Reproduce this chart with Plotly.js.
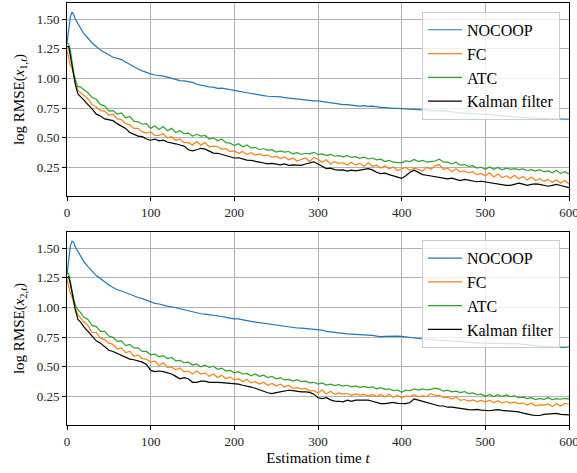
<!DOCTYPE html>
<html>
<head>
<meta charset="utf-8">
<script src="https://cdn.plot.ly/plotly-3.0.1.min.js"></script>
<style>html,body{margin:0;padding:0;background:#fff;}#chart{width:577px;height:473px;}</style>
</head>
<body>
<div id="chart"></div>
<script>
// Estimation time samples
const T = [0,2,4,6,8,10,13,16,20,
25,30,35,40,45,50,55,60,65,70,
75,80,85,90,95,100,105,110,115,120,
125,130,135,140,145,150,155,160,165,170,
175,180,185,190,195,200,205,210,215,220,
225,230,235,240,245,250,255,260,265,270,
275,280,285,290,295,300,305,310,315,320,
325,330,335,340,345,350,355,360,365,370,
375,380,385,390,395,400,405,410,415,420,
425,430,435,440,445,450,455,460,465,470,
475,480,485,490,495,500,505,510,515,520,
525,530,535,540,545,550,555,560,565,570,
575,580,585,590,595,600];

const seriesNames = ["NOCOOP", "FC", "ATC", "Kalman filter"];

// ---- Top panel: log RMSE(x_{1,t}) ----
const x1_nocoop = [1.30,1.42,1.52,1.56,1.54,1.50,1.46,1.42,1.38,
1.34,1.30,1.27,1.24,1.22,1.20,1.18,1.17,1.16,1.14,
1.12,1.095,1.08,1.065,1.05,1.04,1.03,1.028,1.02,1.012,
1.00,0.99,0.982,0.98,0.972,0.968,0.952,0.944,0.94,0.93,
0.927,0.918,0.92,0.91,0.906,0.90,0.892,0.888,0.88,0.874,
0.868,0.86,0.856,0.851,0.85,0.848,0.845,0.84,0.835,0.83,
0.826,0.822,0.82,0.816,0.811,0.812,0.806,0.80,0.797,0.79,
0.785,0.781,0.78,0.774,0.772,0.767,0.772,0.766,0.768,0.76,
0.757,0.755,0.75,0.748,0.749,0.748,0.745,0.74,0.742,0.738,
0.735,0.736,0.73,0.732,0.728,0.729,0.726,0.72,0.714,0.71,
0.707,0.705,0.706,0.703,0.70,0.70,0.698,0.695,0.69,0.686,
0.68,0.677,0.676,0.673,0.67,0.668,0.667,0.665,0.663,0.666,
0.662,0.66,0.661,0.658,0.66,0.657];

const x1_fc = [1.24,1.18,1.11,1.09,1.02,0.96,0.90,0.88,0.86,
0.83,0.78,0.76,0.73,0.725,0.69,0.70,0.66,0.655,0.62,
0.61,0.58,0.58,0.55,0.54,0.55,0.52,0.52,0.535,0.50,
0.51,0.48,0.49,0.46,0.46,0.44,0.47,0.44,0.46,0.425,
0.43,0.425,0.405,0.41,0.385,0.39,0.37,0.385,0.36,0.375,
0.355,0.365,0.35,0.355,0.335,0.345,0.325,0.34,0.315,0.33,
0.305,0.32,0.33,0.30,0.335,0.32,0.295,0.315,0.28,0.30,
0.285,0.29,0.27,0.295,0.27,0.285,0.26,0.29,0.26,0.27,
0.245,0.265,0.24,0.255,0.225,0.24,0.25,0.225,0.245,0.235,
0.22,0.25,0.235,0.265,0.275,0.235,0.245,0.215,0.24,0.215,
0.22,0.205,0.215,0.19,0.20,0.18,0.205,0.17,0.195,0.165,
0.18,0.16,0.185,0.155,0.175,0.145,0.17,0.14,0.155,0.135,
0.15,0.125,0.145,0.12,0.14,0.11];

const x1_atc = [1.30,1.29,1.24,1.14,1.05,0.99,0.93,0.93,0.91,
0.88,0.84,0.825,0.78,0.77,0.725,0.73,0.70,0.71,0.67,
0.68,0.64,0.635,0.615,0.62,0.58,0.60,0.57,0.595,0.56,
0.58,0.545,0.56,0.535,0.54,0.515,0.53,0.515,0.52,0.49,
0.50,0.475,0.49,0.46,0.455,0.435,0.45,0.425,0.44,0.415,
0.42,0.40,0.41,0.395,0.40,0.38,0.39,0.38,0.385,0.365,
0.375,0.36,0.37,0.365,0.378,0.36,0.365,0.35,0.36,0.345,
0.35,0.34,0.35,0.335,0.342,0.327,0.338,0.322,0.33,0.315,
0.32,0.30,0.31,0.295,0.29,0.29,0.305,0.30,0.318,0.30,
0.31,0.295,0.30,0.305,0.32,0.295,0.295,0.28,0.295,0.27,
0.275,0.26,0.265,0.245,0.252,0.235,0.255,0.235,0.25,0.23,
0.245,0.235,0.24,0.232,0.238,0.225,0.232,0.22,0.232,0.215,
0.222,0.205,0.225,0.20,0.215,0.195];

const x1_kalman = [1.27,1.27,1.19,1.10,1.02,0.95,0.87,0.85,0.82,
0.78,0.745,0.70,0.685,0.66,0.65,0.645,0.62,0.60,0.58,
0.545,0.53,0.515,0.51,0.49,0.48,0.49,0.475,0.48,0.465,
0.46,0.45,0.44,0.43,0.40,0.39,0.40,0.412,0.405,0.39,
0.372,0.37,0.36,0.35,0.34,0.33,0.332,0.32,0.312,0.31,
0.30,0.295,0.288,0.28,0.284,0.276,0.272,0.28,0.268,0.272,
0.27,0.268,0.28,0.29,0.298,0.28,0.262,0.241,0.245,0.232,
0.228,0.23,0.22,0.228,0.222,0.227,0.232,0.241,0.23,0.21,
0.199,0.202,0.19,0.18,0.17,0.158,0.18,0.21,0.227,0.21,
0.19,0.185,0.18,0.172,0.17,0.16,0.155,0.16,0.15,0.14,
0.15,0.142,0.132,0.13,0.134,0.128,0.12,0.112,0.11,0.102,
0.10,0.10,0.108,0.118,0.11,0.10,0.108,0.112,0.108,0.10,
0.092,0.10,0.108,0.098,0.09,0.08];

// ---- Bottom panel: log RMSE(x_{2,t}) ----
const x2_nocoop = [1.28,1.42,1.52,1.56,1.55,1.51,1.47,1.43,1.39,
1.345,1.31,1.27,1.245,1.215,1.19,1.17,1.15,1.14,1.125,
1.11,1.10,1.085,1.075,1.06,1.05,1.035,1.03,1.02,1.012,
1.007,0.998,0.99,0.98,0.97,0.96,0.952,0.948,0.944,0.94,
0.937,0.93,0.925,0.918,0.91,0.905,0.905,0.895,0.89,0.883,
0.878,0.87,0.865,0.86,0.853,0.85,0.845,0.84,0.835,0.83,
0.828,0.826,0.823,0.82,0.818,0.815,0.81,0.80,0.795,0.788,
0.782,0.78,0.778,0.776,0.775,0.773,0.77,0.77,0.765,0.76,
0.755,0.758,0.76,0.762,0.76,0.757,0.752,0.745,0.74,0.737,
0.735,0.733,0.73,0.728,0.727,0.725,0.723,0.72,0.715,0.71,
0.706,0.705,0.704,0.702,0.70,0.70,0.70,0.70,0.70,0.70,
0.70,0.70,0.698,0.695,0.69,0.685,0.68,0.675,0.672,0.67,
0.67,0.668,0.668,0.667,0.665,0.67];

const x2_fc = [1.24,1.18,1.12,1.09,1.04,0.99,0.94,0.91,0.88,
0.85,0.79,0.79,0.74,0.73,0.70,0.69,0.65,0.66,0.62,
0.63,0.59,0.60,0.57,0.565,0.54,0.55,0.51,0.535,0.495,
0.50,0.475,0.49,0.46,0.465,0.44,0.465,0.44,0.45,0.42,
0.44,0.41,0.43,0.40,0.415,0.39,0.40,0.375,0.395,0.365,
0.375,0.355,0.37,0.345,0.36,0.34,0.355,0.33,0.345,0.318,
0.325,0.315,0.318,0.298,0.30,0.28,0.305,0.272,0.295,0.268,
0.28,0.27,0.275,0.26,0.272,0.262,0.268,0.255,0.265,0.25,
0.268,0.248,0.27,0.243,0.26,0.24,0.255,0.25,0.265,0.248,
0.255,0.25,0.275,0.258,0.26,0.24,0.245,0.228,0.245,0.218,
0.225,0.212,0.222,0.208,0.218,0.205,0.22,0.198,0.215,0.195,
0.208,0.195,0.202,0.19,0.195,0.178,0.195,0.172,0.18,0.178,
0.188,0.165,0.19,0.17,0.192,0.185];

const x2_atc = [1.31,1.28,1.22,1.14,1.07,1.02,0.98,0.96,0.92,
0.90,0.85,0.84,0.80,0.80,0.76,0.75,0.715,0.72,0.68,
0.69,0.66,0.66,0.63,0.63,0.60,0.61,0.585,0.595,0.57,
0.58,0.55,0.555,0.535,0.54,0.515,0.525,0.50,0.515,0.495,
0.505,0.48,0.49,0.465,0.47,0.45,0.46,0.44,0.445,0.425,
0.44,0.42,0.43,0.41,0.42,0.40,0.41,0.39,0.395,0.38,
0.392,0.375,0.38,0.365,0.37,0.355,0.365,0.347,0.355,0.342,
0.35,0.337,0.345,0.332,0.34,0.327,0.336,0.325,0.332,0.315,
0.325,0.31,0.315,0.30,0.305,0.285,0.305,0.30,0.315,0.305,
0.315,0.305,0.31,0.32,0.312,0.295,0.303,0.29,0.295,0.283,
0.292,0.275,0.28,0.265,0.27,0.252,0.267,0.25,0.265,0.25,
0.263,0.25,0.255,0.24,0.245,0.232,0.24,0.225,0.235,0.227,
0.24,0.225,0.233,0.227,0.235,0.228];

const x2_kalman = [1.25,1.26,1.20,1.12,1.05,0.98,0.90,0.88,0.84,
0.80,0.76,0.72,0.70,0.67,0.64,0.63,0.615,0.60,0.58,
0.565,0.56,0.55,0.54,0.52,0.47,0.46,0.465,0.46,0.45,
0.44,0.42,0.40,0.41,0.40,0.37,0.37,0.38,0.38,0.37,
0.372,0.37,0.368,0.365,0.36,0.36,0.355,0.345,0.34,0.33,
0.32,0.31,0.295,0.282,0.275,0.283,0.29,0.30,0.303,0.30,
0.294,0.29,0.29,0.285,0.27,0.24,0.233,0.24,0.222,0.212,
0.21,0.205,0.22,0.21,0.22,0.218,0.222,0.219,0.21,0.20,
0.19,0.19,0.198,0.20,0.192,0.19,0.19,0.20,0.23,0.22,
0.21,0.20,0.19,0.18,0.17,0.17,0.16,0.16,0.155,0.145,
0.14,0.14,0.138,0.142,0.135,0.132,0.13,0.135,0.14,0.134,
0.13,0.132,0.128,0.12,0.11,0.10,0.095,0.09,0.09,0.10,
0.103,0.11,0.108,0.10,0.095,0.095];

const colors = ["#1f77b4", "#ff7f0e", "#2ca02c", "#000000"];
const xTicks = [0, 100, 200, 300, 400, 500, 600];
const yTicks = [0.25, 0.50, 0.75, 1.00, 1.25, 1.50];

const topSeries = [x1_nocoop, x1_fc, x1_atc, x1_kalman];
const botSeries = [x2_nocoop, x2_fc, x2_atc, x2_kalman];

const traces = [];
topSeries.forEach((ys, i) => traces.push({
  x: T, y: ys, type: "scatter", mode: "lines", name: seriesNames[i],
  line: {color: colors[i], width: 1.2}, xaxis: "x", yaxis: "y", legend: "legend"
}));
botSeries.forEach((ys, i) => traces.push({
  x: T, y: ys, type: "scatter", mode: "lines", name: seriesNames[i],
  line: {color: colors[i], width: 1.2}, xaxis: "x2", yaxis: "y2", legend: "legend2"
}));

const fontFam = "Liberation Serif";
const axBase = {
  showline: true, mirror: true, linecolor: "#000", linewidth: 1,
  showgrid: true, gridcolor: "#b0b0b0", gridwidth: 1,
  ticks: "outside", ticklen: 4, tickwidth: 1, tickcolor: "#000",
  zeroline: false, tickfont: {family: fontFam, size: 13, color: "#222"}
};
const xBase = Object.assign({}, axBase, {range: [0, 600], tickvals: xTicks,
  ticktext: xTicks.map(String), ticklabeloverflow: "allow"});
const yBase = Object.assign({}, axBase, {range: [0.01, 1.637], tickvals: yTicks,
  ticktext: yTicks.map(v => v.toFixed(2))});

const legBase = {
  xref: "paper", yref: "paper", xanchor: "right", yanchor: "top",
  bgcolor: "rgba(255,255,255,0.8)", bordercolor: "#cccccc", borderwidth: 1,
  font: {family: fontFam, size: 16, color: "#000"}, itemwidth: 34
};

const layout = {
  width: 577, height: 473,
  margin: {l: 67, r: 8, t: 3, b: 48},
  paper_bgcolor: "#fff", plot_bgcolor: "#fff",
  showlegend: true,
  font: {family: fontFam, color: "#000"},
  xaxis: Object.assign({}, xBase, {anchor: "y", domain: [0, 1]}),
  yaxis: Object.assign({}, yBase, {anchor: "x", domain: [0.5427, 1],
    title: {text: "log RMSE(<i>x</i><sub>1,<i>t</i></sub>)", font: {family: fontFam, size: 15}, standoff: 8}}),
  xaxis2: Object.assign({}, xBase, {anchor: "y2", domain: [0, 1],
    title: {text: "Estimation time <i>t</i>", font: {family: fontFam, size: 15}, standoff: 4}}),
  yaxis2: Object.assign({}, yBase, {anchor: "x2", domain: [0, 0.4573],
    title: {text: "log RMSE(<i>x</i><sub>2,<i>t</i></sub>)", font: {family: fontFam, size: 15}, standoff: 8}}),
  legend: Object.assign({}, legBase, {x: 0.982, y: 0.979}),
  legend2: Object.assign({}, legBase, {x: 0.982, y: 0.438})
};

Plotly.newPlot("chart", traces, layout, {displayModeBar: false, staticPlot: true});
</script>
</body>
</html>
